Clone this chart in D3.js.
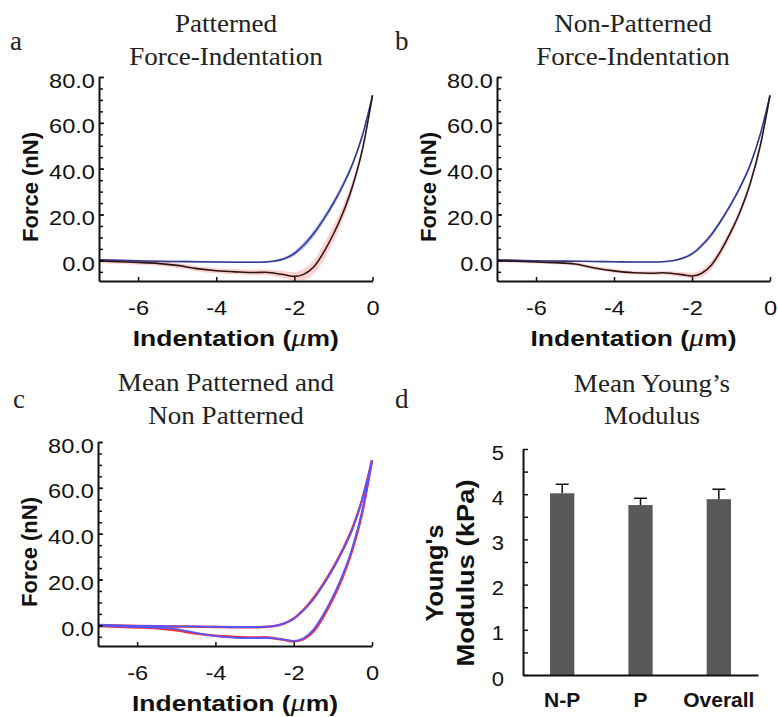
<!DOCTYPE html>
<html><head><meta charset="utf-8">
<script src="https://cdn.jsdelivr.net/npm/d3@7"></script>
<style>body{margin:0;background:#fff}</style>
</head><body>
<svg id="chart" width="778" height="717"></svg>
<script>
// ---------- data ----------
const indentation = [-7,-6.5,-6,-5.5,-5,-4.5,-4,-3.5,-3,-2.75,-2.5,-2.25,-2,-1.75,-1.5,-1.25,-1,-0.75,-0.5,-0.25,0];
// Patterned (panel a)
const patApproach   = [0.2,0,-0.2,-0.4,-0.5,-0.6,-0.7,-0.8,-0.8,-0.7,-0.3,0.8,3.0,6.8,11.8,18,25,33,42.5,55,72];
const patApproachSD = [0.4,0.4,0.4,0.4,0.4,0.4,0.4,0.4,0.4,0.4,0.5,0.7,1.0,1.4,1.5,1.5,1.5,1.4,1.2,1.0,0.3];
const patRetract    = [-0.3,-0.6,-0.9,-1.3,-2.2,-3.6,-4.5,-5.0,-5.3,-5.2,-5.6,-6.3,-7.0,-6.0,-2.8,3.5,11.5,21,33,49,72];
const patRetractSD  = [0.8,0.9,1.0,1.0,1.1,1.1,1.1,1.1,1.2,1.2,1.3,1.5,1.8,2.4,3.0,3.5,3.5,3.0,2.5,1.5,0.5];
// Non-patterned (panel b)
const npApproach    = [0.2,0,-0.2,-0.3,-0.4,-0.5,-0.6,-0.7,-0.7,-0.6,-0.2,0.9,2.8,6.5,11.3,17.5,24.5,32.5,42,55,72];
const npApproachSD  = [0.3,0.3,0.3,0.3,0.3,0.3,0.3,0.3,0.3,0.3,0.4,0.5,0.7,0.9,1.0,1.0,1.0,0.9,0.8,0.6,0.3];
const npRetract     = [-0.2,-0.4,-0.7,-1.0,-1.6,-3.3,-4.6,-5.4,-5.6,-5.4,-5.7,-6.2,-6.8,-5.6,-2.0,4.5,12.5,22,34,50,72];
const npRetractSD   = [0.6,0.6,0.7,0.7,0.8,0.8,0.8,0.8,0.9,0.9,1.0,1.1,1.3,1.6,1.9,2.0,1.9,1.7,1.4,1.0,0.4];
const forceTicks = [0,20,40,60,80];
const forceMinorTicks = [-5,0,5,10,15,20,25,30,35,40,45,50,55,60,65,70,75,80];
const indentTicks = [-6,-4,-2,0];
// Young's modulus (panel d)
const modCategories = ["N-P","P","Overall"];
const modMean = [4.02,3.76,3.89];
const modErr  = [0.20,0.15,0.22];
const modTicks = [0,1,2,3,4,5];
const modMinorTicks = [0,0.5,1,1.5,2,2.5,3,3.5,4,4.5,5];

// ---------- helpers ----------
const svg = d3.select("#chart");
const SANS = "'Liberation Sans', Arial, sans-serif";
const SERIF = "'Liberation Serif', 'Times New Roman', serif";
function stretch(sel, f){ sel.each(function(){ const w=this.getComputedTextLength(); this.setAttribute("textLength", w*f); this.setAttribute("lengthAdjust","spacingAndGlyphs"); }); }
function fitTo(sel, target){ sel.each(function(){ this.setAttribute("textLength", target); this.setAttribute("lengthAdjust","spacingAndGlyphs"); }); }
function textAt(x,y,str,opts){
  return svg.append("text").attr("x",x).attr("y",y).text(str)
    .attr("font-family",opts.family||SANS).attr("font-size",opts.size)
    .attr("font-weight",opts.weight||"normal").attr("text-anchor",opts.anchor||"start")
    .attr("fill",opts.fill||"#111");
}
function title(cx, y1, y2, l1, l2){
  stretch(textAt(cx,y1,l1,{family:SERIF,size:26,anchor:"middle",fill:"#222"}),1.04);
  stretch(textAt(cx,y2,l2,{family:SERIF,size:26,anchor:"middle",fill:"#222"}),1.04);
}

function forcePanel(cfg){
  const x = d3.scaleLinear().domain([-7,0]).range([cfg.x0,cfg.x1]);
  const y = d3.scaleLinear().domain([-9,80]).range([cfg.yb,cfg.yt]);
  const g = svg.append("g");
  const pts = (vals) => indentation.map((d,i)=>({x:d,y:vals[i]}));
  const curve = d3.curveMonotoneX;
  const line = d3.line().x(d=>x(d.x)).y(d=>y(d.y)).curve(curve);
  const area = d3.area().x(d=>x(d.x)).y0(d=>y(d.lo)).y1(d=>y(d.hi)).curve(curve);
  cfg.series.forEach(s=>{
    if(s.sd){
      const band = indentation.map((d,i)=>({x:d,lo:s.vals[i]-s.sd[i],hi:s.vals[i]+s.sd[i]}));
      g.append("path").datum(band).attr("d",area).attr("fill",s.band).attr("stroke","none");
    }
  });
  cfg.series.forEach(s=>{
    g.append("path").datum(pts(s.vals)).attr("d",line).attr("fill","none")
      .attr("stroke",s.color).attr("stroke-width",s.width).attr("stroke-opacity",s.opacity||1);
  });
  const ymin = g.append("g").attr("transform",`translate(${cfg.x0},0)`)
    .call(d3.axisLeft(y).tickValues(forceMinorTicks).tickSize(-4).tickSizeOuter(0).tickFormat(""));
  ymin.select(".domain").remove();
  ymin.selectAll("line").attr("stroke","#111").attr("stroke-width",1.5);
  const yax = g.append("g").attr("transform",`translate(${cfg.x0},0)`)
    .call(d3.axisLeft(y).tickValues(forceTicks).tickSize(-5).tickSizeOuter(0).tickPadding(4).tickFormat(d3.format(".1f")));
  yax.select(".domain").attr("stroke","#111").attr("stroke-width",2);
  yax.selectAll("line").attr("stroke","#111").attr("stroke-width",1.5);
  yax.selectAll("text").attr("font-family",SANS).attr("font-size",20).attr("fill","#111").attr("dy","0.5em");
  stretch(yax.selectAll("text"),1.18);
  const xax = g.append("g").attr("transform",`translate(0,${cfg.yb})`)
    .call(d3.axisBottom(x).tickValues(indentTicks).tickSize(-4).tickSizeOuter(0).tickFormat(d=>String(d)));
  xax.select(".domain").attr("stroke","#111").attr("stroke-width",2);
  xax.selectAll("line").attr("stroke","#111").attr("stroke-width",1.5);
  xax.selectAll("text").attr("font-family",SANS).attr("font-size",20).attr("fill","#111").attr("y",34).attr("dy",0);
  stretch(xax.selectAll("text"),1.18);
  const fy = (cfg.yt+cfg.yb)/2 + 8;
  svg.append("text").attr("transform",`translate(${cfg.x0-61},${fy}) rotate(-90)`)
    .attr("text-anchor","middle").attr("font-family",SANS).attr("font-weight","bold").attr("font-size",22)
    .attr("fill","#111").text("Force (nN)");
  const xl = svg.append("text").attr("x",(cfg.x0+cfg.x1)/2).attr("y",cfg.yb+65)
    .attr("text-anchor","middle").attr("font-family",SANS).attr("font-weight","bold").attr("font-size",22).attr("fill","#111");
  xl.append("tspan").text("Indentation (");
  xl.append("tspan").text("μ").attr("font-style","italic").attr("font-family",SERIF).attr("font-weight","normal").attr("font-size",25);
  xl.append("tspan").text("m)");
  fitTo(xl, 206);
}

// ---------- panel a ----------
textAt(10,50,"a",{family:SERIF,size:27,fill:"#222"});
title(226,32,65,"Patterned","Force-Indentation");
forcePanel({x0:99,x1:372.5,yt:77,yb:281,series:[
  {vals:patApproach,sd:patApproachSD,color:"#33398c",band:"rgba(110,120,235,0.45)",width:1.6},
  {vals:patRetract,sd:patRetractSD,color:"#2a1515",band:"rgba(255,120,120,0.35)",width:1.6}
]});
// ---------- panel b ----------
textAt(395,50,"b",{family:SERIF,size:27,fill:"#222"});
title(633,32,65,"Non-Patterned","Force-Indentation");
forcePanel({x0:497,x1:770,yt:77,yb:281,series:[
  {vals:npApproach,sd:npApproachSD,color:"#33398c",band:"rgba(110,120,235,0.45)",width:1.6},
  {vals:npRetract,sd:npRetractSD,color:"#2a1515",band:"rgba(255,120,120,0.35)",width:1.6}
]});
// ---------- panel c ----------
textAt(13,408,"c",{family:SERIF,size:27,fill:"#222"});
title(226,391,424,"Mean Patterned and","Non Patterned");
forcePanel({x0:98,x1:372,yt:442,yb:646,series:[
  {vals:patApproach,color:"#ff3030",width:2.4},
  {vals:patRetract,color:"#ff3030",width:2.4},
  {vals:npApproach,color:"#5555ff",width:1.8},
  {vals:npRetract,color:"#5555ff",width:1.8}
]});
// ---------- panel d ----------
textAt(395,408,"d",{family:SERIF,size:27,fill:"#222"});
title(652,392,424,"Mean Young’s","Modulus");
(function(){
  const x = d3.scaleBand().domain(modCategories).range([523,758]).paddingInner(0.69).paddingOuter(0.345);
  const y = d3.scaleLinear().domain([0,5]).range([675,449]);
  const g = svg.append("g");
  g.selectAll("rect.bar").data(modCategories).join("rect").attr("class","bar")
    .attr("x",d=>x(d)).attr("width",x.bandwidth())
    .attr("y",(d,i)=>y(modMean[i])).attr("height",(d,i)=>y(0)-y(modMean[i]))
    .attr("fill","#595959");
  modCategories.forEach((c,i)=>{
    const cx = x(c)+x.bandwidth()/2;
    g.append("line").attr("x1",cx).attr("x2",cx).attr("y1",y(modMean[i])).attr("y2",y(modMean[i]+modErr[i])).attr("stroke","#111").attr("stroke-width",1.5);
    g.append("line").attr("x1",cx-6.5).attr("x2",cx+6.5).attr("y1",y(modMean[i]+modErr[i])).attr("y2",y(modMean[i]+modErr[i])).attr("stroke","#111").attr("stroke-width",1.5);
  });
  const ymin = g.append("g").attr("transform","translate(523,0)")
    .call(d3.axisLeft(y).tickValues(modMinorTicks).tickSize(-5).tickSizeOuter(0).tickFormat(""));
  ymin.select(".domain").attr("stroke","#111").attr("stroke-width",2);
  ymin.selectAll("line").attr("stroke","#111").attr("stroke-width",1.5);
  const yt = g.append("g").attr("transform","translate(504,0)")
    .call(d3.axisLeft(y).tickValues(modTicks).tickSize(0).tickSizeOuter(0).tickPadding(0).tickFormat(d3.format("d")));
  yt.select(".domain").remove();
  yt.selectAll("text").attr("font-family",SANS).attr("font-size",20).attr("fill","#111").attr("dy","0.5em");
  stretch(yt.selectAll("text"),1.1);
  const xa = g.append("g").attr("transform","translate(0,675)")
    .call(d3.axisBottom(x).tickSize(0).tickSizeOuter(0));
  xa.select(".domain").attr("stroke","#111").attr("stroke-width",2);
  xa.selectAll("text").attr("font-family",SANS).attr("font-weight","bold").attr("font-size",21).attr("fill","#111").attr("y",32).attr("dy",0);
  const l1 = svg.append("text").attr("transform","translate(443,573) rotate(-90)").attr("text-anchor","middle")
    .attr("font-family",SANS).attr("font-weight","bold").attr("font-size",23).attr("fill","#111").text("Young's");
  fitTo(l1,97);
  const l2 = svg.append("text").attr("transform","translate(474,573) rotate(-90)").attr("text-anchor","middle")
    .attr("font-family",SANS).attr("font-weight","bold").attr("font-size",23).attr("fill","#111").text("Modulus (kPa)");
  fitTo(l2,187);
})();
</script>
</body></html>
